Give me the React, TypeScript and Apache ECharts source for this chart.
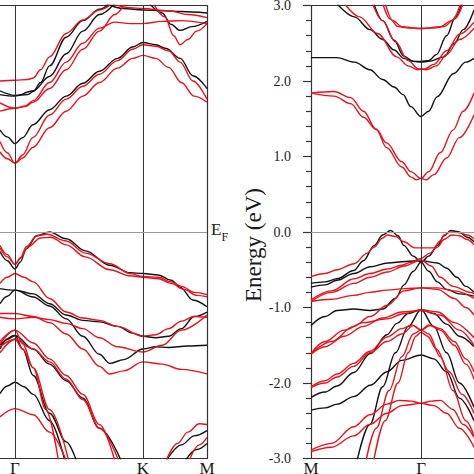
import React, { useEffect, useRef } from 'react';
import * as echarts from 'echarts';

// k in units of |ΓK| (Γ = 0, K = 1, M = 1.5 on the left; M = -0.86 on the right)
const leftTickPos = [0, 1, 1.5];
const leftTickText = ['Γ', 'K', 'M'];
const rightTickPos = [-0.86, 0];
const rightTickText = ['M', 'Γ'];
const leftXRange = [-0.117, 1.5];
const rightXRange = [-0.86, 0.414];
const energyRange = [-3, 3];
const vLinesLeft = [0, 1];
const vLinesRight = [0];

// ---- Left panel: conduction bands ----
const L_cb_black1 = [[-0.117,1.35],[-0.06,1.26],[0,1.17],[0.06,1.25],[0.14,1.42],[0.27,1.62],[0.4,1.8],[0.53,1.97],[0.66,2.13],[0.8,2.3],[0.92,2.45],[1,2.51],[1.1,2.48],[1.18,2.43],[1.29,2.3],[1.39,2.07],[1.5,1.9]];
const L_cb_black2 = [[-0.117,1.87],[0,1.81],[0.1,1.82],[0.143,1.86],[0.2,1.98],[0.27,2.2],[0.4,2.58],[0.53,2.8],[0.66,2.95],[0.74,3.03]];
const L_cb_black3 = [[-0.117,1.82],[0,1.8],[0.143,1.87],[0.27,2.06],[0.4,2.36],[0.53,2.66],[0.66,2.88],[0.78,3.03]];
const L_cb_black4 = [[0.7,3.03],[0.85,2.96],[1,2.94],[1.15,2.93],[1.3,2.92],[1.5,2.9]];
const L_cb_black5 = [[1.05,3.03],[1.15,2.9],[1.22,2.75],[1.29,2.67],[1.38,2.72],[1.5,2.79]];
const L_cb_red1 = [[-0.117,1.2],[-0.06,1.05],[0,0.91],[0.06,1.02],[0.14,1.25],[0.27,1.55],[0.4,1.76],[0.53,1.93],[0.66,2.09],[0.8,2.27],[0.92,2.42],[1,2.48],[1.1,2.46],[1.2,2.4],[1.29,2.25],[1.39,2.0],[1.5,1.76]];
const L_cb_red2 = [[-0.117,1.06],[-0.06,0.97],[0,0.91],[0.06,0.98],[0.14,1.12],[0.27,1.38],[0.4,1.6],[0.53,1.8],[0.66,1.98],[0.8,2.17],[0.92,2.3],[1,2.34],[1.1,2.3],[1.2,2.18],[1.3,1.98],[1.4,1.8],[1.5,1.72]];
const L_cb_red3 = [[-0.117,2.0],[0,2.01],[0.1,2.02],[0.143,2.04],[0.2,2.15],[0.27,2.32],[0.4,2.63],[0.53,2.81],[0.66,2.94],[0.76,3.03]];
const L_cb_red4 = [[-0.117,1.71],[0,1.64],[0.08,1.67],[0.143,1.74],[0.27,1.98],[0.4,2.25],[0.53,2.5],[0.66,2.7],[0.78,2.78],[0.9,2.76],[1,2.76],[1.15,2.79],[1.3,2.8],[1.5,2.76]];
const L_cb_red5 = [[-0.117,1.6],[0,1.64],[0.08,1.66],[0.143,1.72],[0.27,1.9],[0.4,2.15],[0.53,2.42],[0.66,2.66],[0.78,2.88],[0.86,3.03]];
const L_cb_red6 = [[0.75,3.03],[0.9,2.97],[1,2.96],[1.2,2.93],[1.35,2.88],[1.5,2.84]];
const L_cb_red7 = [[1.08,3.03],[1.17,2.85],[1.24,2.6],[1.29,2.48],[1.35,2.55],[1.42,2.66],[1.5,2.76]];

// ---- Left panel: valence bands ----
const L_vb_black1 = [[-0.117,-0.26],[-0.06,-0.38],[0,-0.49],[0.04,-0.4],[0.09,-0.22],[0.17,-0.05],[0.27,0.0],[0.4,-0.09],[0.55,-0.25],[0.74,-0.44],[0.9,-0.54],[1,-0.55],[1.12,-0.57],[1.22,-0.64],[1.29,-0.73],[1.39,-0.9],[1.5,-0.99]];
const L_vb_black2 = [[-0.117,-0.75],[0,-0.77],[0.143,-0.82],[0.27,-0.95],[0.4,-1.1],[0.53,-1.17],[0.66,-1.19],[0.8,-1.25],[0.92,-1.34],[1,-1.38],[1.1,-1.4],[1.2,-1.38],[1.3,-1.28],[1.4,-1.12],[1.5,-1.06]];
const L_vb_black3 = [[-0.117,-0.95],[-0.06,-0.85],[0,-0.77],[0.143,-0.86],[0.27,-0.98],[0.4,-1.15],[0.53,-1.38],[0.66,-1.62],[0.74,-1.74],[0.85,-1.69],[1,-1.55],[1.1,-1.52],[1.2,-1.53],[1.35,-1.51],[1.5,-1.5]];
const L_vb_black4 = [[-0.117,-1.55],[-0.06,-1.42],[0,-1.37],[0.06,-1.55],[0.143,-1.9],[0.27,-2.4],[0.4,-2.78],[0.48,-3.03]];
const L_vb_black5 = [[-0.117,-1.5],[0,-1.37],[0.143,-1.55],[0.27,-1.75],[0.4,-1.97],[0.53,-2.2],[0.66,-2.6],[0.83,-3.03]];
const L_vb_black6 = [[-0.117,-2.14],[-0.06,-2.04],[0,-1.99],[0.07,-2.05],[0.143,-2.15],[0.27,-2.5],[0.39,-3.03]];
const L_vb_black7 = [[1.18,-3.03],[1.3,-2.82],[1.4,-2.7],[1.5,-2.63]];
const L_vb_black8 = [[1.33,-3.03],[1.42,-2.88],[1.5,-2.8]];
const L_vb_red1 = [[-0.117,-0.18],[-0.06,-0.3],[0,-0.43],[0.04,-0.35],[0.09,-0.19],[0.17,-0.05],[0.25,-0.03],[0.4,-0.12],[0.55,-0.28],[0.74,-0.42],[0.9,-0.55],[1,-0.59],[1.12,-0.6],[1.22,-0.66],[1.3,-0.72],[1.4,-0.8],[1.5,-0.83]];
const L_vb_red2 = [[-0.117,-0.21],[-0.06,-0.33],[0,-0.43],[0.05,-0.33],[0.1,-0.2],[0.2,-0.08],[0.28,-0.07],[0.4,-0.17],[0.55,-0.33],[0.74,-0.5],[0.9,-0.58],[1,-0.6],[1.12,-0.62],[1.22,-0.68],[1.32,-0.76],[1.42,-0.84],[1.5,-0.86]];
const L_vb_red3 = [[-0.117,-0.68],[-0.06,-0.6],[0,-0.55],[0.07,-0.6],[0.143,-0.66],[0.27,-0.88],[0.4,-1.06],[0.53,-1.14],[0.66,-1.17],[0.8,-1.25],[1,-1.38],[1.1,-1.36],[1.2,-1.28],[1.3,-1.18],[1.4,-1.12],[1.5,-1.13]];
const L_vb_red4 = [[-0.117,-1.08],[0,-1.08],[0.143,-1.12],[0.27,-1.2],[0.4,-1.35],[0.53,-1.55],[0.66,-1.78],[0.74,-1.88],[0.85,-1.84],[1,-1.72],[1.15,-1.75],[1.3,-1.82],[1.5,-1.88]];
const L_vb_red5 = [[-0.117,-1.13],[0,-1.15],[0.143,-1.13],[0.27,-1.16],[0.4,-1.21],[0.53,-1.28],[0.66,-1.4],[0.8,-1.52],[1,-1.59],[1.15,-1.5],[1.3,-1.3],[1.5,-1.1]];
const L_vb_red6 = [[-0.117,-1.45],[0,-1.3],[0.143,-1.47],[0.27,-1.68],[0.4,-1.9],[0.53,-2.15],[0.66,-2.55],[0.78,-3.03]];
const L_vb_red7 = [[-0.117,-1.52],[0,-1.42],[0.143,-1.55],[0.27,-1.72],[0.4,-1.95],[0.53,-2.22],[0.66,-2.6],[0.81,-3.03]];
const L_vb_red8 = [[-0.117,-1.6],[0,-1.42],[0.06,-1.55],[0.143,-1.8],[0.24,-2.35],[0.34,-3.03]];
const L_vb_red9 = [[-0.117,-1.48],[0,-1.3],[0.06,-1.48],[0.143,-1.8],[0.27,-2.35],[0.42,-3.03]];
const L_vb_red10 = [[-0.117,-2.45],[0,-2.34],[0.143,-2.42],[0.27,-2.65],[0.4,-3.03]];
const L_vb_red11 = [[1.18,-3.03],[1.27,-2.8],[1.35,-2.65],[1.44,-2.54],[1.5,-2.55]];
const L_vb_red12 = [[1.36,-3.03],[1.44,-2.82],[1.5,-2.72]];

// ---- Right panel: conduction bands ----
const R_cb_black1 = [[-0.86,2.31],[-0.66,2.31],[-0.52,2.25],[-0.4,2.15],[-0.3,2.02],[-0.21,1.92],[-0.14,1.82],[-0.08,1.66],[0,1.53],[0.06,1.6],[0.125,1.79],[0.255,2.1],[0.35,2.25],[0.414,2.3]];
const R_cb_black2 = [[-0.37,3.03],[-0.3,2.8],[-0.21,2.54],[-0.135,2.33],[-0.06,2.26],[0,2.26],[0.06,2.27],[0.12,2.35],[0.2,2.6],[0.27,2.85],[0.32,3.03]];
const R_cb_black3 = [[-0.66,3.03],[-0.52,2.85],[-0.4,2.68],[-0.3,2.55],[-0.21,2.41],[-0.135,2.3],[-0.06,2.26],[0,2.25],[0.06,2.26],[0.18,2.32],[0.26,2.5],[0.33,2.68],[0.414,2.94]];
const R_cb_red1 = [[-0.86,1.84],[-0.68,1.86],[-0.55,1.78],[-0.45,1.6],[-0.35,1.36],[-0.27,1.12],[-0.15,0.86],[-0.08,0.73],[-0.035,0.69],[0,0.71],[0.06,0.8],[0.15,1.05],[0.25,1.35],[0.33,1.6],[0.414,1.84]];
const R_cb_red2 = [[-0.86,1.84],[-0.68,1.8],[-0.55,1.7],[-0.45,1.52],[-0.35,1.36],[-0.27,1.18],[-0.15,0.93],[-0.08,0.8],[0,0.71],[0.04,0.69],[0.1,0.76],[0.2,0.98],[0.3,1.25],[0.414,1.55]];
const R_cb_red3 = [[-0.6,3.03],[-0.48,2.85],[-0.34,2.63],[-0.19,2.32],[-0.1,2.2],[-0.03,2.15],[0.03,2.16],[0.1,2.22],[0.2,2.4],[0.3,2.62],[0.414,2.78]];
const R_cb_red4 = [[-0.38,3.03],[-0.3,2.8],[-0.2,2.52],[-0.1,2.27],[-0.02,2.16],[0.04,2.15],[0.12,2.2],[0.2,2.35],[0.3,2.55],[0.414,2.7]];
const R_cb_red5 = [[-0.3,3.03],[-0.24,2.82],[-0.18,2.72],[-0.1,2.7],[0,2.7],[0.1,2.7],[0.18,2.72],[0.26,2.82],[0.33,3.03]];
const R_cb_red6 = [[-0.28,3.03],[-0.22,2.8],[-0.15,2.72],[0,2.69],[0.15,2.72],[0.24,2.8],[0.31,3.03]];

// ---- Right panel: valence bands ----
const R_vb_black1 = [[-0.86,-0.68],[-0.75,-0.66],[-0.656,-0.62],[-0.526,-0.51],[-0.45,-0.38],[-0.367,-0.18],[-0.3,-0.04],[-0.237,0.02],[-0.18,-0.05],[-0.133,-0.18],[-0.06,-0.32],[0,-0.4],[0.06,-0.32],[0.128,-0.18],[0.18,-0.05],[0.232,0.02],[0.3,0.0],[0.36,-0.07],[0.414,-0.13]];
const R_vb_black2 = [[-0.86,-0.73],[-0.75,-0.7],[-0.656,-0.64],[-0.526,-0.55],[-0.396,-0.46],[-0.26,-0.41],[-0.12,-0.39],[0,-0.38],[0.128,-0.41],[0.2,-0.48],[0.28,-0.6],[0.35,-0.72],[0.414,-0.8]];
const R_vb_black3 = [[-0.86,-1.24],[-0.75,-1.12],[-0.656,-1.04],[-0.526,-1.02],[-0.4,-1.04],[-0.3,-1.02],[-0.2,-0.88],[-0.133,-0.7],[-0.06,-0.52],[0,-0.4],[0.06,-0.52],[0.128,-0.66],[0.2,-0.76],[0.3,-0.82],[0.414,-0.85]];
const R_vb_black4 = [[-0.86,-2.19],[-0.75,-2.12],[-0.656,-2.04],[-0.526,-1.86],[-0.396,-1.61],[-0.266,-1.36],[-0.188,-1.21],[-0.1,-1.08],[0,-1.03],[0.1,-1.08],[0.2,-1.22],[0.3,-1.38],[0.414,-1.52]];
const R_vb_black5 = [[-0.5,-3.03],[-0.4,-2.55],[-0.3,-2.05],[-0.2,-1.6],[-0.1,-1.25],[0,-1.03],[0.1,-1.25],[0.2,-1.6],[0.3,-2.0],[0.414,-2.32]];
const R_vb_black6 = [[-0.86,-2.36],[-0.75,-2.33],[-0.656,-2.28],[-0.526,-2.18],[-0.396,-2.03],[-0.266,-1.85],[-0.15,-1.7],[0,-1.63],[0.1,-1.68],[0.2,-1.85],[0.3,-2.2],[0.414,-2.5]];
const R_vb_red1 = [[-0.86,-0.59],[-0.75,-0.55],[-0.656,-0.5],[-0.523,-0.42],[-0.42,-0.28],[-0.367,-0.2],[-0.3,-0.08],[-0.263,-0.04],[-0.2,-0.06],[-0.133,-0.13],[-0.05,-0.21],[0,-0.21],[0.1,-0.21],[0.15,-0.12],[0.18,-0.04],[0.23,0.0],[0.3,-0.01],[0.36,-0.04],[0.414,-0.09]];
const R_vb_red2 = [[-0.86,-0.9],[-0.7,-0.78],[-0.523,-0.62],[-0.4,-0.55],[-0.263,-0.49],[-0.15,-0.44],[-0.078,-0.4],[0,-0.35],[0.07,-0.28],[0.128,-0.2],[0.18,-0.1],[0.24,-0.04],[0.3,-0.05],[0.36,-0.1],[0.414,-0.17]];
const R_vb_red3 = [[-0.86,-0.92],[-0.7,-0.8],[-0.523,-0.68],[-0.4,-0.6],[-0.263,-0.53],[-0.13,-0.45],[0,-0.37],[0.08,-0.45],[0.15,-0.6],[0.25,-0.72],[0.388,-0.8],[0.414,-0.82]];
const R_vb_red4 = [[-0.86,-0.92],[-0.7,-0.89],[-0.526,-0.84],[-0.4,-0.8],[-0.266,-0.77],[-0.13,-0.75],[0,-0.74],[0.128,-0.74],[0.26,-0.78],[0.414,-0.88]];
const R_vb_red5 = [[-0.86,-1.61],[-0.7,-1.45],[-0.526,-1.25],[-0.4,-1.12],[-0.263,-0.97],[-0.133,-0.78],[0,-0.74],[0.128,-0.76],[0.26,-0.88],[0.35,-1.0],[0.414,-1.1]];
const R_vb_red6 = [[-0.86,-2.05],[-0.75,-1.97],[-0.656,-1.88],[-0.526,-1.74],[-0.4,-1.58],[-0.266,-1.39],[-0.15,-1.28],[-0.07,-1.23],[0,-1.3],[0.06,-1.23],[0.15,-1.3],[0.26,-1.5],[0.35,-1.75],[0.414,-1.95]];
const R_vb_red7 = [[-0.86,-2.06],[-0.75,-2.0],[-0.656,-1.92],[-0.526,-1.78],[-0.4,-1.6],[-0.266,-1.45],[-0.15,-1.35],[-0.06,-1.24],[0,-1.3],[0.07,-1.24],[0.15,-1.28],[0.26,-1.45],[0.35,-1.68],[0.414,-1.85]];
const R_vb_red8 = [[-0.86,-1.61],[-0.75,-1.45],[-0.6,-1.3],[-0.45,-1.2],[-0.266,-1.15],[-0.13,-1.08],[0,-1.03],[0.13,-1.06],[0.26,-1.2],[0.414,-1.4]];
const R_vb_red9 = [[-0.86,-1.62],[-0.75,-1.52],[-0.6,-1.38],[-0.45,-1.25],[-0.3,-1.14],[-0.15,-1.06],[0,-1.04],[0.15,-1.1],[0.3,-1.3],[0.414,-1.5]];
const R_vb_red10 = [[-0.43,-3.03],[-0.35,-2.6],[-0.25,-2.1],[-0.15,-1.65],[-0.06,-1.35],[0,-1.3],[0.06,-1.35],[0.15,-1.65],[0.25,-2.1],[0.35,-2.5],[0.414,-2.7]];
const R_vb_red11 = [[-0.37,-3.03],[-0.28,-2.5],[-0.18,-2.0],[-0.1,-1.6],[-0.04,-1.38],[0,-1.33],[0.05,-1.38],[0.12,-1.55],[0.22,-1.85],[0.32,-2.15],[0.414,-2.4]];
const R_vb_red12 = [[-0.86,-2.89],[-0.7,-2.8],[-0.526,-2.58],[-0.4,-2.42],[-0.266,-2.28],[-0.17,-2.23],[-0.08,-2.24],[0,-2.27],[0.08,-2.24],[0.15,-2.23],[0.25,-2.35],[0.33,-2.55],[0.414,-2.72]];
const R_vb_red13 = [[-0.86,-2.91],[-0.7,-2.85],[-0.526,-2.7],[-0.4,-2.55],[-0.266,-2.4],[-0.15,-2.3],[0,-2.27],[0.1,-2.3],[0.2,-2.4],[0.3,-2.6],[0.414,-2.85]];

const leftBlack = [L_cb_black1, L_cb_black2, L_cb_black3, L_cb_black4, L_cb_black5, L_vb_black1, L_vb_black2, L_vb_black3, L_vb_black4, L_vb_black5, L_vb_black6, L_vb_black7, L_vb_black8];
const leftRed = [L_cb_red1, L_cb_red2, L_cb_red3, L_cb_red4, L_cb_red5, L_cb_red6, L_cb_red7, L_vb_red1, L_vb_red2, L_vb_red3, L_vb_red4, L_vb_red5, L_vb_red6, L_vb_red7, L_vb_red8, L_vb_red9, L_vb_red10, L_vb_red11, L_vb_red12];
const rightBlack = [R_cb_black1, R_cb_black2, R_cb_black3, R_vb_black1, R_vb_black2, R_vb_black3, R_vb_black4, R_vb_black5, R_vb_black6];
const rightRed = [R_cb_red1, R_cb_red2, R_cb_red3, R_cb_red4, R_cb_red5, R_cb_red6, R_vb_red1, R_vb_red2, R_vb_red3, R_vb_red4, R_vb_red5, R_vb_red6, R_vb_red7, R_vb_red8, R_vb_red9, R_vb_red10, R_vb_red11, R_vb_red12, R_vb_red13];

const SERIF = "'Liberation Serif', 'Times New Roman', Times, serif";
const RED = '#e8121c';
const BLACK = '#111111';
const FRAME = '#333333';
const TEXT = '#1a1a1a';

function bandSeries(data: number[][], color: string, xi: number, yi: number) {
  return {
    type: 'line', xAxisIndex: xi, yAxisIndex: yi, data,
    showSymbol: false, symbol: 'none', smooth: 0.35, smoothMonotone: 'x',
    lineStyle: { color, width: 1.4 }, silent: true, z: color === RED ? 4 : 3, clip: true,
  };
}

function refLines(xi: number, yi: number, xs: number[]) {
  return {
    type: 'line', xAxisIndex: xi, yAxisIndex: yi, data: [], silent: true, z: 2,
    markLine: {
      silent: true, symbol: 'none', animation: false, label: { show: false },
      data: [
        ...xs.map((x) => ({ xAxis: x, lineStyle: { color: FRAME, width: 1, type: 'solid' } })),
        { yAxis: 0, lineStyle: { color: '#9a9a9a', width: 1, type: 'solid' } },
      ],
    },
  };
}

function xAxisPair(grid: number, range: number[], pos: number[], text: string[]) {
  return [
    {
      gridIndex: grid, type: 'value', min: range[0], max: range[1], position: 'bottom',
      axisLine: { show: true, onZero: false, lineStyle: { color: FRAME, width: 1.2 } },
      axisTick: { show: false }, splitLine: { show: false },
      axisLabel: {
        customValues: pos, margin: 1, fontSize: 17, fontFamily: SERIF, color: TEXT,
        formatter: (v: number) => { const i = pos.findIndex((p) => Math.abs(p - v) < 1e-6); return i >= 0 ? text[i] : ''; },
      },
    },
    {
      gridIndex: grid, type: 'value', min: range[0], max: range[1], position: 'top',
      axisLine: { show: true, onZero: false, lineStyle: { color: FRAME, width: 1.2 } },
      axisTick: { show: false }, splitLine: { show: false }, axisLabel: { show: false },
    },
  ];
}

export default function App() {
  const ref = useRef<HTMLDivElement>(null);
  useEffect(() => {
    if (!ref.current) return;
    const chart = echarts.init(ref.current, null, { renderer: 'svg' });
    const series: any[] = [
      refLines(0, 0, vLinesLeft),
      refLines(2, 1, vLinesRight),
      ...leftBlack.map((d) => bandSeries(d, BLACK, 0, 0)),
      ...leftRed.map((d) => bandSeries(d, RED, 0, 0)),
      ...rightBlack.map((d) => bandSeries(d, BLACK, 2, 1)),
      ...rightRed.map((d) => bandSeries(d, RED, 2, 1)),
    ];
    chart.setOption({
      animation: false,
      backgroundColor: '#ffffff',
      textStyle: { fontFamily: SERIF },
      grid: [
        { left: 0, top: 5.5, width: 207, height: 453, outerBoundsMode: 'none' },
        { left: 311, top: 5.5, width: 163, height: 453, outerBoundsMode: 'none' },
      ],
      xAxis: [
        ...xAxisPair(0, leftXRange, leftTickPos, leftTickText),
        ...xAxisPair(1, rightXRange, rightTickPos, rightTickText),
      ],
      yAxis: [
        {
          gridIndex: 0, type: 'value', min: energyRange[0], max: energyRange[1], position: 'right',
          axisLine: { show: true, onZero: false, lineStyle: { color: FRAME, width: 1.2 } },
          axisTick: { show: false }, splitLine: { show: false },
          axisLabel: {
            customValues: [0], margin: 4, formatter: () => '{e|E}{f|F}',
            rich: {
              e: { fontSize: 17, fontFamily: SERIF, color: TEXT, lineHeight: 22, verticalAlign: 'top' },
              f: { fontSize: 12, fontFamily: SERIF, color: TEXT, lineHeight: 12, verticalAlign: 'bottom' },
            },
          },
        },
        {
          gridIndex: 1, type: 'value', min: energyRange[0], max: energyRange[1], interval: 1, position: 'left',
          axisLine: { show: true, onZero: false, lineStyle: { color: FRAME, width: 1.2 } },
          axisTick: { show: true, inside: false, length: 8, lineStyle: { color: FRAME, width: 1.2 } },
          minorTick: { show: true, splitNumber: 5, length: 5, lineStyle: { color: FRAME, width: 1.2 } },
          splitLine: { show: false }, minorSplitLine: { show: false },
          axisLabel: { formatter: (v: number) => v.toFixed(1), fontSize: 14, fontFamily: SERIF, color: TEXT, margin: 20 },
          name: 'Energy (eV)', nameLocation: 'middle', nameGap: 42,
          nameTextStyle: { fontSize: 23, fontFamily: SERIF, color: TEXT, padding: [0, 26, 0, 0] },
        },
      ],
      series,
    });
    return () => chart.dispose();
  }, []);
  return <div ref={ref} style={{ position: 'fixed', left: 0, top: 0, width: 474, height: 474, background: '#fff' }} />;
}
